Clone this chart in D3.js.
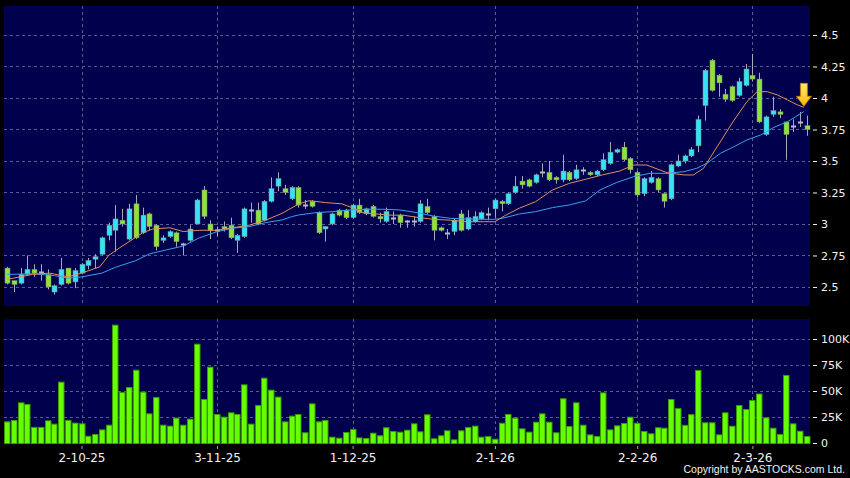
<!DOCTYPE html>
<html><head><meta charset="utf-8">
<script src="https://cdn.jsdelivr.net/npm/d3@7"></script>
<style>html,body{margin:0;padding:0;background:#000;}svg{display:block;}</style>
</head><body><svg id="chart" width="850" height="478"></svg>
<script>
// ---------- data ----------
const dates = [
"2025-09-16","2025-09-17","2025-09-18","2025-09-19","2025-09-22","2025-09-23","2025-09-24","2025-09-25","2025-09-26","2025-09-29","2025-09-30",
"2025-10-02","2025-10-03","2025-10-06","2025-10-08","2025-10-09","2025-10-10","2025-10-13","2025-10-14","2025-10-15","2025-10-16","2025-10-17","2025-10-20","2025-10-21","2025-10-22","2025-10-23","2025-10-24","2025-10-27","2025-10-28","2025-10-30","2025-10-31",
"2025-11-03","2025-11-04","2025-11-05","2025-11-06","2025-11-07","2025-11-10","2025-11-11","2025-11-12","2025-11-13","2025-11-14","2025-11-17","2025-11-18","2025-11-19","2025-11-20","2025-11-21","2025-11-24","2025-11-25","2025-11-26","2025-11-27","2025-11-28",
"2025-12-01","2025-12-02","2025-12-03","2025-12-04","2025-12-05","2025-12-08","2025-12-09","2025-12-10","2025-12-11","2025-12-12","2025-12-15","2025-12-16","2025-12-17","2025-12-18","2025-12-19","2025-12-22","2025-12-23","2025-12-24","2025-12-29","2025-12-30","2025-12-31",
"2026-01-02","2026-01-05","2026-01-06","2026-01-07","2026-01-08","2026-01-09","2026-01-12","2026-01-13","2026-01-14","2026-01-15","2026-01-16","2026-01-19","2026-01-20","2026-01-21","2026-01-22","2026-01-23","2026-01-26","2026-01-27","2026-01-28","2026-01-29","2026-01-30",
"2026-02-02","2026-02-03","2026-02-04","2026-02-05","2026-02-06","2026-02-09","2026-02-10","2026-02-11","2026-02-12","2026-02-13","2026-02-16","2026-02-20","2026-02-23","2026-02-24","2026-02-25","2026-02-26","2026-02-27",
"2026-03-02","2026-03-03","2026-03-04","2026-03-05","2026-03-06","2026-03-09","2026-03-10","2026-03-11","2026-03-12"];

const open = [2.65,2.55,2.53,2.60,2.64,2.62,2.60,2.46,2.52,2.65, 2.54,2.61,2.67,2.72,2.76,2.91,2.95,3.03,2.88,3.16,
2.93,3.08,2.99,2.87,2.90,2.93,2.84,2.87,3.00,3.27, 3.00,2.95,2.98,2.99,2.87,2.90,3.11,3.11,3.03,3.18,
3.30,3.28,3.20,3.29,3.15,3.18,3.09,2.96,3.00,3.11, 3.11,3.05,3.15,3.08,3.14,3.06,3.02,3.05,3.07,3.02,
3.02,3.02,3.14,3.06,2.97,2.93,2.94,3.08,2.96,3.02, 3.04,3.08,3.12,3.18,3.16,3.25,3.34,3.35,3.33,3.41,
3.41,3.37,3.35,3.41,3.36,3.43,3.41,3.39,3.43,3.48, 3.57,3.61,3.52,3.41,3.24,3.33,3.36,3.24,3.20,3.46,
3.50,3.54,3.62,3.94,4.30,4.18,4.03,4.09,4.02,4.10, 4.18,4.15,3.71,3.87,3.89,3.81,3.78,3.81,3.78];
const high = [2.66,2.55,2.65,2.75,2.68,2.68,2.64,2.52,2.73,2.65, 2.65,2.69,2.73,2.76,2.90,3.01,3.15,3.12,3.16,3.23,
3.13,3.09,3.00,2.91,2.95,2.94,2.85,2.99,3.20,3.30, 3.03,2.98,3.02,3.05,2.92,3.13,3.17,3.17,3.19,3.37,
3.41,3.31,3.30,3.30,3.19,3.19,3.10,2.98,3.09,3.12, 3.12,3.16,3.20,3.13,3.15,3.09,3.13,3.10,3.08,3.03,
3.06,3.19,3.20,3.07,2.98,2.96,3.04,3.11,3.11,3.10, 3.10,3.13,3.20,3.19,3.25,3.38,3.38,3.36,3.40,3.48,
3.50,3.38,3.55,3.42,3.47,3.45,3.42,3.43,3.56,3.65, 3.60,3.65,3.53,3.42,3.37,3.42,3.37,3.25,3.48,3.55,
3.55,3.61,3.86,4.23,4.31,4.19,4.07,4.10,4.16,4.27, 4.35,4.20,3.86,4.01,3.91,3.81,3.83,3.89,3.86];
const low = [2.52,2.46,2.52,2.59,2.58,2.55,2.48,2.44,2.51,2.52, 2.49,2.60,2.64,2.65,2.75,2.87,2.78,2.98,2.87,2.88,
2.92,2.95,2.79,2.85,2.89,2.82,2.75,2.86,3.00,3.04, 2.88,2.90,2.94,2.88,2.77,2.89,3.01,2.99,3.02,3.17,
3.26,3.23,3.19,3.13,3.12,3.13,2.92,2.86,2.99,3.06, 3.04,3.04,3.08,3.07,3.05,3.01,3.01,3.00,2.97,2.97,
2.98,3.01,3.08,2.87,2.94,2.88,2.91,2.94,2.95,3.01, 3.03,3.03,3.05,3.10,3.15,3.24,3.28,3.29,3.32,3.37,
3.34,3.32,3.33,3.34,3.35,3.39,3.38,3.38,3.42,3.47, 3.56,3.50,3.40,3.21,3.22,3.32,3.25,3.13,3.19,3.45,
3.48,3.53,3.57,3.82,4.05,4.01,3.97,3.97,4.01,4.09, 4.13,3.80,3.70,3.85,3.84,3.51,3.73,3.77,3.70];
const close = [2.53,2.52,2.60,2.64,2.61,2.62,2.50,2.51,2.64,2.53, 2.63,2.68,2.71,2.74,2.89,2.99,3.04,3.00,3.12,2.89,
3.07,2.98,2.82,2.89,2.94,2.86,2.84,2.96,3.19,3.06, 2.95,2.95,2.96,2.89,2.91,3.12,3.11,3.00,3.18,3.28,
3.36,3.25,3.29,3.15,3.15,3.14,2.93,2.98,3.08,3.07, 3.05,3.15,3.09,3.12,3.06,3.04,3.10,3.05,3.01,3.02,
3.02,3.16,3.09,2.95,2.95,2.93,3.03,2.95,3.05,3.06, 3.09,3.08,3.19,3.16,3.24,3.30,3.31,3.30,3.39,3.41,
3.35,3.35,3.42,3.35,3.43,3.43,3.39,3.42,3.51,3.57, 3.59,3.51,3.43,3.23,3.36,3.37,3.27,3.18,3.47,3.50,
3.54,3.59,3.83,4.22,4.06,4.12,3.99,3.98,4.13,4.23, 4.15,3.81,3.85,3.90,3.87,3.71,3.78,3.81,3.75];
// volume in shares
const volume = [20800,22100,39100,37500,15500,15500,21800,18600,59000,22200, 19600,18900,7000,8700,13100,17600,113800,49000,53800,70500,
49400,28500,44200,17600,16700,24400,17600,23400,95500,42300, 73400,27900,25300,29500,27900,56400,18600,36500,62800,51300,
44600,20800,26300,27900,10300,38100,20800,22100,6100,5100, 10600,13500,5400,4800,9900,7400,15100,11500,10900,12800,
18900,11200,27600,4500,7400,12200,3500,12200,15400,16700, 6100,6700,4100,19500,27900,24400,14100,10900,20500,28500,
20500,10300,43000,16300,39100,17600,8300,6700,48700,13100, 17000,19200,25300,19500,11500,9300,15100,14700,42300,33500,
17500,27700,70200,19900,19900,8300,29500,16600,36500,32700, 41300,47600,24700,14700,8700,65400,18900,11800,6700];

// moving averages (position given as candle index)
const ma10Idx = [0,3.8,6.3,9,11,13.7,15,16.6,18.6,20,21.5,24,26,28.4,30.9,33.3,35.7,38.2,40.6,43.1,44.6,47,49.4,50.9,52.4,54.4,56.4,58.4,60.5,62.9,65.4,67.9,70.3,72,73.6,75.6,78,80.5,83,85.4,87.9,90.4,92.5,94.4,97.4,99.9,101.3,102.8,104.8,107.3,109.2,110.7,112.2,113.7,115.2,116.7,117.6];
const ma10 = [2.56,2.60,2.61,2.58,2.61,2.66,2.75,2.81,2.88,2.93,2.96,2.97,2.94,2.95,2.95,2.97,2.99,3.03,3.085,3.16,3.185,3.17,3.16,3.13,3.09,3.08,3.07,3.07,3.053,3.037,3.03,3.018,3.018,3.018,3.07,3.125,3.177,3.27,3.323,3.355,3.39,3.42,3.468,3.468,3.407,3.389,3.389,3.442,3.614,3.825,3.971,4.05,4.05,4.024,3.984,3.944,3.926];
const ma20Idx = [0,4,7,9,11,14,16,19,21,23.5,26,28.4,31,33.3,35.7,38.2,40.6,42,43,45.6,48.1,50.6,53,55.5,58,60.5,62.9,65.4,67.9,70.3,72,73.1,75.6,78,80.5,83,85.4,87.5,90,92.5,94.9,97.4,99.9,101.8,103.3,105.3,107.3,109.2,111.2,113.2,115.2,117.6];
const ma20 = [2.60,2.605,2.59,2.57,2.58,2.61,2.656,2.709,2.762,2.794,2.825,2.89,2.939,2.966,2.979,3.011,3.032,3.058,3.071,3.09,3.098,3.111,3.117,3.117,3.111,3.09,3.063,3.045,3.04,3.037,3.037,3.045,3.079,3.098,3.13,3.151,3.183,3.27,3.33,3.376,3.402,3.402,3.415,3.442,3.482,3.561,3.614,3.667,3.706,3.767,3.812,3.892];

const priceTicks = [2.5,2.75,3,3.25,3.5,3.75,4,4.25,4.5];
const volumeTicks = [0,25000,50000,75000,100000];
const volumeTickLabels = ["0","25K","50K","75K","100K"];
const dateTicks = ["2025-10-02","2025-11-03","2025-12-01","2026-01-02","2026-02-02","2026-03-02"];

// ---------- layout ----------
const W = 850, H = 478;
const L = 4, R = 810;
const pTop = 6, pBot = 306, vTop = 319, vBot = 444;
const COL = {bg:"#000000", panel:"#00004c", grid:"#5a5a90", up:"#36e2f4", down:"#8fe23a",
  wick:"#a8a8b8", doji:"#b8b8c8", vol:"#66ff00", volStroke:"#3a9a00", ma10:"#e0905a", ma20:"#3aa0ee", text:"#f2f2f2"};

const svg = d3.select("#chart");
svg.append("rect").attr("width",W).attr("height",H).attr("fill",COL.bg);

const n = dates.length;
const x = d3.scaleLinear().domain([-0.5, n-0.5]).range([3.6, R]);
const yP = d3.scaleLinear().domain([2.349, 4.730]).range([pBot, pTop]);
const yV = d3.scaleLinear().domain([0, 100000]).range([443, 339]);
const idxOf = new Map(dates.map((d,i)=>[d,i]));
const parse = d3.timeParse("%Y-%m-%d");
const fmtDate = d3.timeFormat("%-d-%-m-%y");

// panels
svg.append("rect").attr("x",L).attr("y",pTop).attr("width",R-L).attr("height",pBot-pTop).attr("fill",COL.panel);
svg.append("rect").attr("x",L).attr("y",vTop).attr("width",R-L).attr("height",vBot-vTop).attr("fill",COL.panel);

// grid
const grid = svg.append("g").attr("stroke",COL.grid).attr("stroke-width",1).attr("stroke-dasharray","3,3").attr("fill","none");
priceTicks.forEach(t=>{ const y=Math.round(yP(t))+0.5; grid.append("line").attr("x1",L).attr("x2",R).attr("y1",y).attr("y2",y); });
volumeTicks.filter(t=>t>0).forEach(t=>{ const y=Math.round(yV(t))+0.5; grid.append("line").attr("x1",L).attr("x2",R).attr("y1",y).attr("y2",y); });
dateTicks.forEach(d=>{ const xx=Math.round(x(idxOf.get(d)))+0.5;
  grid.append("line").attr("x1",xx).attr("x2",xx).attr("y1",pTop).attr("y2",pBot);
  grid.append("line").attr("x1",xx).attr("x2",xx).attr("y1",vTop).attr("y2",vBot); });

// volume bars
svg.append("g").selectAll("rect").data(volume).join("rect")
  .attr("x",(v,i)=>Math.round(x(i))-3+0.5).attr("width",5.5)
  .attr("y",v=>yV(v)+0.5).attr("height",v=>Math.max(0,yV(0)-yV(v)))
  .attr("fill",COL.vol).attr("stroke",COL.volStroke).attr("stroke-width",1);

// candles
const cg = svg.append("g");
d3.range(n).forEach(i=>{
  const cx = Math.round(x(i));
  const o=open[i], c=close[i];
  cg.append("line").attr("x1",cx+0.5).attr("x2",cx+0.5).attr("y1",yP(high[i])).attr("y2",yP(low[i]))
    .attr("stroke",COL.wick).attr("stroke-width",1);
  if (o===c) {
    cg.append("rect").attr("x",cx-2).attr("width",5).attr("y",Math.round(yP(o))-0.5).attr("height",2).attr("fill",COL.doji);
  } else {
    const top=yP(Math.max(o,c)), bot=yP(Math.min(o,c));
    cg.append("rect").attr("x",cx-2).attr("width",5).attr("y",top).attr("height",Math.max(1.5,bot-top))
      .attr("fill", c>o?COL.up:COL.down).attr("stroke","#7a8a8a").attr("stroke-width",0.5);
  }
});

// moving averages
const line = d3.line().x(d=>x(d[0])).y(d=>yP(d[1]));
svg.append("path").datum(ma20Idx.map((k,i)=>[k,ma20[i]])).attr("d",line).attr("fill","none").attr("stroke",COL.ma20).attr("stroke-width",1);
svg.append("path").datum(ma10Idx.map((k,i)=>[k,ma10[i]])).attr("d",line).attr("fill","none").attr("stroke",COL.ma10).attr("stroke-width",1);

// arrow at last ma10 point
const tx = x(ma10Idx[ma10Idx.length-1]), ty = yP(ma10[ma10.length-1]) - 1;
const grad = svg.append("defs").append("linearGradient").attr("id","ag").attr("x1",0).attr("y1",0).attr("x2",0).attr("y2",1);
grad.append("stop").attr("offset","0").attr("stop-color","#ffe870");
grad.append("stop").attr("offset","1").attr("stop-color","#ffb800");
svg.append("path").attr("d",`M${tx},${ty} L${tx-7.5},${ty-10} L${tx-3.5},${ty-10} L${tx-3.5},${ty-23} L${tx+3.5},${ty-23} L${tx+3.5},${ty-10} L${tx+7.5},${ty-10} Z`)
  .attr("fill","url(#ag)").attr("stroke","#c07a00").attr("stroke-width",0.8);

// axes
const font = "DejaVu Sans, Verdana, sans-serif";
const ay = svg.append("g").attr("transform",`translate(${R+3},0)`)
  .call(d3.axisRight(yP).tickValues(priceTicks).tickSize(4).tickPadding(4).tickFormat(d=>String(d)));
const av = svg.append("g").attr("transform",`translate(${R+3},0)`)
  .call(d3.axisRight(yV).tickValues(volumeTicks).tickSize(4).tickPadding(4).tickFormat((d,i)=>volumeTickLabels[i]));
const ax = svg.append("g").attr("transform",`translate(0,${vBot+2})`)
  .call(d3.axisBottom(x).tickValues(dateTicks.map(d=>idxOf.get(d))).tickSize(3).tickPadding(4).tickFormat(i=>fmtDate(parse(dates[i]))));
[ay,av,ax].forEach(g=>{
  g.select(".domain").remove();
  g.selectAll(".tick line").attr("stroke",COL.text);
  g.selectAll(".tick text").attr("fill",COL.text).attr("font-family",font);
});
ay.selectAll(".tick text").attr("font-size",11);
av.selectAll(".tick text").attr("font-size",11);
ax.selectAll(".tick text").attr("font-size",12);
ax.selectAll(".tick line").attr("stroke","#aaaaaa");

svg.append("text").attr("x",845).attr("y",473).attr("text-anchor","end").attr("fill",COL.text)
  .attr("font-family","Liberation Sans, Arial, sans-serif").attr("font-size",10.5)
  .text("Copyright by AASTOCKS.com Ltd.");
</script></body></html>
